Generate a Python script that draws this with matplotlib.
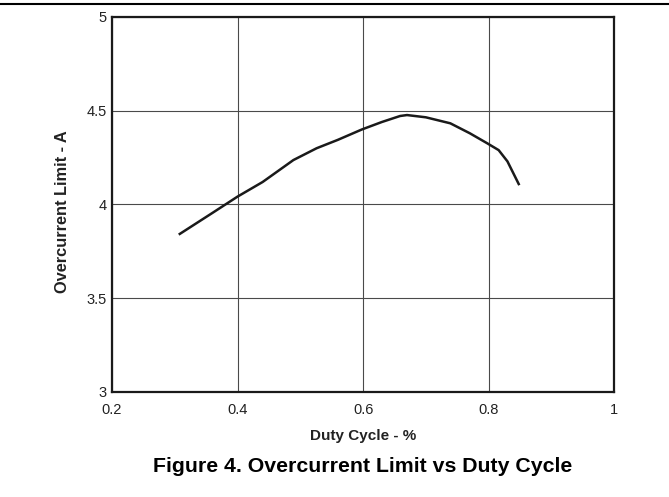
import matplotlib.pyplot as plt
from matplotlib.lines import Line2D

plt.rcParams['font.family'] = ['Liberation Sans', 'DejaVu Sans']

duty = [0.308, 0.36, 0.40, 0.44, 0.489, 0.526, 0.56, 0.598, 0.63, 0.659, 0.670, 0.70, 0.739, 0.77, 0.798, 0.816, 0.83, 0.848]
limit = [3.843, 3.955, 4.042, 4.12, 4.237, 4.30, 4.345, 4.40, 4.44, 4.472, 4.477, 4.465, 4.433, 4.38, 4.326, 4.29, 4.23, 4.109]

xticks = [0.2, 0.4, 0.6, 0.8, 1.0]
xtick_labels = ['0.2', '0.4', '0.6', '0.8', '1']
yticks = [3, 3.5, 4, 4.5, 5]
ytick_labels = ['3', '3.5', '4', '4.5', '5']

fig = plt.figure(figsize=(6.69, 4.97), dpi=100)
ax = fig.add_axes([0.1674, 0.2113, 0.7506, 0.7545])

ax.plot(duty, limit, color='#1a1a1a', lw=1.8)

ax.set_xlim(0.2, 1.0)
ax.set_ylim(3, 5)
ax.set_xticks(xticks)
ax.set_xticklabels(xtick_labels)
ax.set_yticks(yticks)
ax.set_yticklabels(ytick_labels)
ax.tick_params(length=0, labelsize=10.5, colors='#222222')
ax.tick_params(axis='x', pad=8)
ax.tick_params(axis='y', pad=4)
ax.grid(True, color='#4a4a4a', lw=0.8)
for s in ax.spines.values():
    s.set_linewidth(1.6)
    s.set_color('#1a1a1a')

ax.set_xlabel('Duty Cycle - %', fontsize=11, fontweight='bold', color='#222222', va='center')
ax.xaxis.set_label_coords(0.5, -0.117)
ax.set_ylabel('Overcurrent Limit - A', fontsize=11.8, fontweight='bold', color='#222222', va='center')
ax.yaxis.set_label_coords(-0.0976, 0.48)

fig.text(0.5426, 0.0604, 'Figure 4. Overcurrent Limit vs Duty Cycle', ha='center', va='center',
         fontsize=15.3, fontweight='bold')

# header rule across the page
fig.add_artist(Line2D([0, 1], [0.991, 0.991], color='black', lw=1.5, transform=fig.transFigure))

fig.savefig('out.png', dpi=100)
